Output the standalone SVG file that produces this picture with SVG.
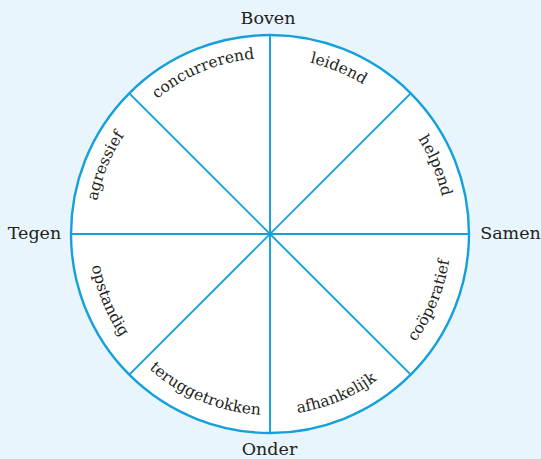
<svg xmlns="http://www.w3.org/2000/svg" xmlns:xlink="http://www.w3.org/1999/xlink" width="541" height="459" viewBox="0 0 541 459">
<style>
.bg{fill:#e8f5fc}
.ring{fill:#ffffff;stroke:#14a0dc;stroke-width:2.4}
.spoke{stroke:#14a0dc;stroke-width:1.9;fill:none}
.axis{font-family:"DejaVu Serif","Liberation Serif",serif;font-size:17.5px;fill:#231f20}
.lbl{font-family:"DejaVu Serif","Liberation Serif",serif;font-size:15.5px;fill:#231f20}
</style>
<defs>
<path id="pA" d="M94,234 A176,176 0 0 1 145.55,109.55"/>
<path id="pB" d="M145.55,109.55 A176,176 0 0 1 270,58"/>
<path id="pC" d="M270,58 A176,176 0 0 1 394.45,109.55"/>
<path id="pD" d="M394.45,109.55 A176,176 0 0 1 446,234"/>
<path id="pE" d="M397.99,361.99 A181,181 0 0 0 451,234"/>
<path id="pF" d="M270,415 A181,181 0 0 0 397.99,361.99"/>
<path id="pG" d="M142.01,361.99 A181,181 0 0 0 270,415"/>
<path id="pH" d="M89,234 A181,181 0 0 0 142.01,361.99"/>
</defs>
<rect class="bg" x="0" y="0" width="541" height="459"/>
<g id="wheel">
<circle class="ring" cx="270" cy="234" r="199"/>
</g>
<g id="connectors">
<line class="spoke" x1="270" y1="35" x2="270" y2="433"/>
<line class="spoke" x1="71" y1="234" x2="469" y2="234"/>
<line class="spoke" x1="129.3" y1="93.3" x2="410.7" y2="374.7"/>
<line class="spoke" x1="410.7" y1="93.3" x2="129.3" y2="374.7"/>
</g>
<g id="boven"><text class="axis" x="268" y="24" text-anchor="middle">Boven</text></g>
<g id="tegen"><text class="axis" x="34.5" y="239" text-anchor="middle">Tegen</text></g>
<g id="samen"><text class="axis" x="510.5" y="239" text-anchor="middle">Samen</text></g>
<g id="onder"><text class="axis" x="269.5" y="455" text-anchor="middle">Onder</text></g>
<g id="agressief"><text class="lbl"><textPath href="#pA" xlink:href="#pA" startOffset="50%" text-anchor="middle">agressief</textPath></text></g>
<g id="concurrerend"><text class="lbl"><textPath href="#pB" xlink:href="#pB" startOffset="50%" text-anchor="middle">concurrerend</textPath></text></g>
<g id="leidend"><text class="lbl"><textPath href="#pC" xlink:href="#pC" startOffset="50%" text-anchor="middle">leidend</textPath></text></g>
<g id="helpend"><text class="lbl"><textPath href="#pD" xlink:href="#pD" startOffset="50%" text-anchor="middle">helpend</textPath></text></g>
<g id="cooperatief"><text class="lbl"><textPath href="#pE" xlink:href="#pE" startOffset="50%" text-anchor="middle">coöperatief</textPath></text></g>
<g id="afhankelijk"><text class="lbl"><textPath href="#pF" xlink:href="#pF" startOffset="50%" text-anchor="middle">afhankelijk</textPath></text></g>
<g id="teruggetrokken"><text class="lbl"><textPath href="#pG" xlink:href="#pG" startOffset="50%" text-anchor="middle">teruggetrokken</textPath></text></g>
<g id="opstandig"><text class="lbl"><textPath href="#pH" xlink:href="#pH" startOffset="50%" text-anchor="middle">opstandig</textPath></text></g>
</svg>
